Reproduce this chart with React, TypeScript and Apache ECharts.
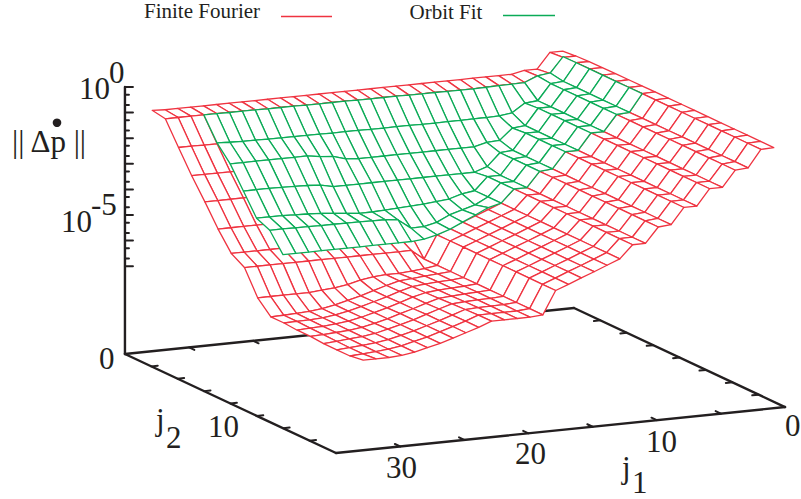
import React, { useEffect, useRef } from "react";
import * as echarts from "echarts";

// log10 of the error, one row per j2 = 0..16, one value per j1 = 1..33
const wall = [-0.25, -0.27, -0.94, -0.98, -1.6, -1.6, -2.23, -2.23, -2.85, -2.89, -3.48, -3.48, -3.98, -4.18, -4.38, -4.57, -4.77, -4.96];
const redRows: number[][] = [
  [-0.35, -0.35, -0.95, -0.95, -1.05, -1.05, -1.05, -1.05, -1.05, -1.05, -1.05, -1.05, -1.05, -1.05, -1.05, -1.05, -1.05, -1.05, -1.05, -1.05, -1.05, -1.05, -1.05, -1.05, -1.05, -1.05, -1.05, -1.05, -1.05, -1.05, -1.05, -1.05, -1.02],
  [-0.3, -0.3, -0.88, -0.92, -1.13, -1.14, -1.15, -1.16, -1.17, -1.17, -1.17, -1.16, -1.16, -1.16, -1.15, -1.15, -1.15, -1.15, -1.14, -1.14, -1.14, -1.14, -1.13, -1.13, -1.13, -1.12, -1.12, -1.12, -1.11, -1.11, -1.11, -1.11, -1.11],
  [-0.28, -0.27, -0.95, -0.98, -1.6, -1.64, -1.97, -2.04, -2.05, -2.05, -2.06, -2.06, -2.06, -2.06, -2.05, -2.05, -2.05, -2.05, -2.04, -2.04, -2.04, -2.03, -2.03, -2.03, -2.02, -2.02, -2.01, -2.01, -2.0, -2.0, -2.0, -1.99, -1.99],
  [-0.27, -0.27, -0.95, -0.98, -1.6, -1.6, -2.23, -2.23, -2.85, -2.86, -2.87, -2.87, -2.87, -2.87, -2.87, -2.87, -2.87, -2.87, -2.87, -2.87, -2.86, -2.86, -2.86, -2.86, -2.86, -2.86, -2.86, -2.85, -2.85, -2.85, -2.85, -2.85, -2.85],
  [-0.26, -0.27, -0.95, -0.98, -1.6, -1.6, -2.23, -2.23, -2.85, -2.89, -3.48, -3.5, -3.62, -3.63, -3.63, -3.63, -3.63, -3.63, -3.63, -3.63, -3.63, -3.63, -3.63, -3.63, -3.63, -3.63, -3.63, -3.63, -3.63, -3.63, -3.63, -3.63, -3.63],
  [-0.26, -0.27, -0.95, -0.98, -1.6, -1.6, -2.23, -2.23, -2.85, -2.89, -3.48, -3.48, -3.98, -4.18, -4.38, -4.45, -4.45, -4.45, -4.45, -4.45, -4.45, -4.45, -4.45, -4.45, -4.45, -4.45, -4.45, -4.45, -4.45, -4.45, -4.45, -4.45, -4.45],
  [-0.26, -0.27, -0.95, -0.98, -1.6, -1.6, -2.23, -2.23, -2.85, -2.89, -3.48, -3.48, -3.98, -4.18, -4.38, -4.57, -4.77, -4.96, -5.16, -5.16, -5.16, -5.16, -5.16, -5.16, -5.16, -5.16, -5.16, -5.16, -5.16, -5.16, -5.16, -5.16, -5.16],
  [-0.25, -0.27, -0.95, -0.98, -1.6, -1.6, -2.23, -2.23, -2.85, -2.89, -3.48, -3.48, -3.98, -4.18, -4.38, -4.57, -4.77, -4.96, -5.86, -5.47, -5.47, -5.47, -5.47, -5.47, -5.47, -5.47, -5.47, -5.47, -5.47, -5.47, -5.47, -5.47, -5.47],
  [...wall, -5.86, -5.94, -5.98, -6.02, -6.02, -6.05, -6.13, -6.25, -6.33, -6.37, -6.41, -6.41, -6.41, -6.41, -6.41],
  [...wall, -5.86, -5.9, -5.94, -5.98, -6.02, -6.15, -6.3, -6.45, -6.58, -6.7, -6.8, -6.85, -6.88, -6.9, -6.91],
  [...wall, -5.86, -5.9, -5.92, -5.96, -6.0, -6.14, -6.3, -6.44, -6.58, -6.7, -6.8, -6.86, -6.89, -6.9, -6.91],
  [...wall, -5.86, -5.9, -5.92, -5.95, -6.0, -6.12, -6.28, -6.44, -6.57, -6.7, -6.8, -6.86, -6.9, -6.92, -6.95],
  [...wall, -5.86, -5.89, -5.91, -5.94, -5.98, -6.12, -6.28, -6.42, -6.57, -6.7, -6.8, -6.87, -6.9, -6.93, -6.95],
  [...wall, -5.86, -5.89, -5.9, -5.92, -5.95, -6.1, -6.26, -6.42, -6.56, -6.68, -6.8, -6.87, -6.91, -6.95, -6.99],
  [...wall, -5.86, -5.89, -5.9, -5.91, -5.93, -6.1, -6.26, -6.41, -6.56, -6.68, -6.8, -6.87, -6.92, -6.96, -6.99],
  [...wall, -5.86, -5.9, -5.9, -5.9, -5.91, -6.09, -6.25, -6.41, -6.56, -6.68, -6.8, -6.88, -6.92, -6.96, -6.99],
  [...wall, -5.86, -5.9, -5.9, -5.9, -5.9, -6.09, -6.25, -6.41, -6.56, -6.68, -6.8, -6.88, -6.91, -6.91, -6.91],
];

// Orbit Fit: j2 = 1..7, j1 = 2..30
const greenSteps = [-0.27, -0.95, -0.98, -1.6, -1.6, -2.23, -2.23, -2.85, -2.89, -3.48, -3.48];
const greenRows: number[][] = [
  [-0.27, -0.86, -0.92, -1.13, -1.14, -1.15, -1.16, -1.17, -1.17, -1.17, -1.16, -1.16, -1.16, -1.15, -1.15, -1.15, -1.15, -1.14, -1.14, -1.14, -1.14, -1.13, -1.13, -1.13, -1.12, -1.12, -1.12, -1.11, -1.11],
  [-0.27, -0.95, -0.98, -1.6, -1.64, -1.97, -2.04, -2.05, -2.05, -2.06, -2.06, -2.06, -2.06, -2.05, -2.05, -2.05, -2.05, -2.04, -2.04, -2.04, -2.03, -2.03, -2.03, -2.02, -2.02, -2.01, -2.01, -1.99, -1.96],
  [-0.27, -0.95, -0.98, -1.6, -1.6, -2.23, -2.27, -2.7, -2.73, -2.85, -2.85, -2.85, -2.85, -2.85, -2.85, -2.85, -2.85, -2.85, -2.85, -2.81, -2.66, -2.62, -2.54, -2.54, -2.54, -2.54, -2.54, -2.54, -2.54],
  [-0.27, -0.95, -0.98, -1.6, -1.6, -2.23, -2.23, -2.85, -2.89, -3.38, -3.55, -3.55, -3.55, -3.55, -3.55, -3.55, -3.55, -3.55, -3.55, -3.55, -3.55, -3.55, -3.44, -3.4, -3.38, -3.37, -3.36, -3.36, -3.36],
  [...greenSteps, -3.98, -4.05, -4.2, -4.25, -4.3, -4.32, -4.35, -4.38, -4.4, -4.4, -4.35, -4.3, -4.25, -4.22, -4.2, -4.18, -4.18, -4.18],
  [...greenSteps, -3.98, -4.24, -4.38, -4.53, -4.77, -4.88, -4.89, -4.52, -4.46, -4.45, -4.44, -4.44, -4.43, -4.43, -4.42, -4.42, -4.41, -4.41],
  [...greenSteps, -3.98, -4.1, -4.34, -4.57, -4.8, -4.96, -5.08, -5.12, -5.12, -5.12, -5.12, -5.12, -5.12, -5.12, -5.12, -5.12, -5.12, -5.12],
];

const j1Ticks = [5, 10, 15, 20, 25, 30];
const j2Ticks = [2, 4, 6, 8, 10, 12, 14];
const zDecades = [0, -1, -2, -3, -4, -5, -6, -7];
const zMinors = [-0.3, -0.7, -1.3, -1.7, -2.3, -2.7, -3.3, -3.7, -4.3, -4.7, -5.3, -5.7, -6.3, -6.7];

const RED = "#ef3340";
const GREEN = "#0bab57";
const INK = "#231f20";
const SERIF = '"Liberation Serif", "Times New Roman", serif';
const J1_MAX = 35;
const J2_MAX = 16;
const Z_FLOOR = -10.43;
const MESH_SHIFT = 0.12;

// 3-D to page projection of the gnuplot view
function project(j1: number, j2: number, logZ: number): number[] {
  return [
    574 - 12.83 * j1 + 13.19 * j2,
    308 + 1.314 * j1 + 6.19 * j2 - 25.6 * (logZ - Z_FLOOR),
  ];
}

function meshData(rows: number[][], j1Start: number, j2Start: number) {
  const cells: number[][] = [];
  for (let r = 0; r + 1 < rows.length; r++) {
    for (let c = 0; c + 1 < rows[r].length; c++) {
      cells.push([j1Start + c, j2Start + r, rows[r][c], rows[r][c + 1], rows[r + 1][c + 1], rows[r + 1][c]]);
    }
  }
  // back to front
  return cells.sort((a, b) => (1.314 * a[0] + 6.19 * a[1]) - (1.314 * b[0] + 6.19 * b[1]));
}

function meshSeries(name: string, rows: number[][], j1Start: number, j2Start: number, color: string, z: number) {
  return {
    type: "custom",
    name,
    coordinateSystem: "cartesian2d",
    z,
    silent: true,
    clip: false,
    data: meshData(rows, j1Start, j2Start),
    encode: { x: 0, y: 1 },
    renderItem: (_: any, api: any) => {
      const a = api.value(0) - MESH_SHIFT;
      const b = api.value(1);
      const pts = [
        project(a, b, api.value(2)),
        project(a + 1, b, api.value(3)),
        project(a + 1, b + 1, api.value(4)),
        project(a, b + 1, api.value(5)),
      ].map((p) => api.coord(p));
      return {
        type: "polygon",
        shape: { points: pts },
        style: { fill: "#ffffff", stroke: color, lineWidth: 1.3, lineJoin: "round" },
      };
    },
  };
}

function segment(p: number[], q: number[], width: number) {
  return { p, q, width };
}

function axisSegments() {
  const s: { p: number[]; q: number[]; width: number }[] = [];
  const f = Z_FLOOR;
  const main = 2.4;
  s.push(segment(project(J1_MAX, 0, f), project(J1_MAX, J2_MAX, f), main));
  s.push(segment(project(J1_MAX, J2_MAX, f), project(0, J2_MAX, f), main));
  s.push(segment(project(0, J2_MAX, f), project(0, 0, f), main));
  s.push(segment(project(0, 0, f), project(J1_MAX, 0, f), main));
  s.push(segment(project(J1_MAX, 0, f), project(J1_MAX, 0, 0), main));
  for (const t of j1Ticks) {
    s.push(segment(project(t, J2_MAX, f), project(t, J2_MAX - 0.4, f), 2));
    s.push(segment(project(J1_MAX - t, 0, f), project(J1_MAX - t, 0.4, f), 2));
  }
  for (const t of j2Ticks) {
    s.push(segment(project(J1_MAX, t, f), project(J1_MAX - 0.5, t, f), 2));
    s.push(segment(project(0, t, f), project(0.5, t, f), 2));
  }
  for (const d of zDecades) {
    const p = project(J1_MAX, 0, d);
    s.push(segment(p, [p[0] + 8, p[1]], 2));
  }
  for (const d of zMinors) {
    const p = project(J1_MAX, 0, d);
    s.push(segment(p, [p[0] + 4, p[1]], 2));
  }
  return s;
}

function label(text: string, x: number, baseline: number, size = 31) {
  return {
    type: "text",
    x,
    y: baseline + size * 0.21,
    z: 50,
    style: { text, fill: INK, fontFamily: SERIF, fontSize: size, textAlign: "left", textVerticalAlign: "bottom" },
  };
}

function legendLine(x1: number, x2: number, y: number, color: string) {
  return { type: "line", z: 50, shape: { x1, y1: y, x2, y2: y }, style: { stroke: color, lineWidth: 1.5 } };
}

export default function App() {
  const ref = useRef<HTMLDivElement>(null);
  useEffect(() => {
    document.body.style.margin = "0";
    const chart = echarts.init(ref.current!, undefined, { renderer: "svg" });
    const segs = axisSegments();
    chart.setOption({
      animation: false,
      backgroundColor: "#ffffff",
      grid: { left: 0, right: 0, top: 0, bottom: 0 },
      xAxis: { type: "value", min: 0, max: 801, show: false },
      yAxis: { type: "value", min: 0, max: 499, inverse: true, show: false },
      series: [
        {
          type: "custom",
          name: "axes",
          coordinateSystem: "cartesian2d",
          z: 1,
          silent: true,
          clip: false,
          data: segs.map((s, i) => [i, 0]),
          encode: { x: 0, y: 1 },
          renderItem: (_: any, api: any) => {
            const s = segs[api.value(0)];
            const a = api.coord(s.p);
            const b = api.coord(s.q);
            return {
              type: "line",
              shape: { x1: a[0], y1: a[1], x2: b[0], y2: b[1] },
              style: { stroke: INK, lineWidth: s.width, lineCap: "round" },
            };
          },
        },
        meshSeries("Finite Fourier", redRows, 1, 0, RED, 2),
        meshSeries("Orbit Fit", greenRows, 2, 1, GREEN, 3),
      ],
      graphic: [
        label("Finite Fourier", 144, 17.5, 21),
        legendLine(281, 332, 16.5, RED),
        label("Orbit Fit", 409.5, 18, 21),
        legendLine(503, 555, 15.5, GREEN),
        label("10", 79, 97),
        label("0", 109, 81),
        label("10", 61, 230),
        label("-5", 91, 213),
        label("0", 99, 367),
        label("|| Δp ||", 12, 150),
        { type: "circle", z: 50, shape: { cx: 57, cy: 122.7, r: 4.3 }, style: { fill: INK } },
        label("j", 156, 428),
        label("2", 166, 446),
        label("10", 208, 435),
        label("30", 386, 476),
        label("20", 515, 462),
        label("10", 646, 450),
        label("0", 785, 434),
        label("j", 622, 476),
        label("1", 632, 491),
      ],
    });
    return () => chart.dispose();
  }, []);
  return <div ref={ref} style={{ width: 801, height: 499, position: "absolute", left: 0, top: 0 }} />;
}
